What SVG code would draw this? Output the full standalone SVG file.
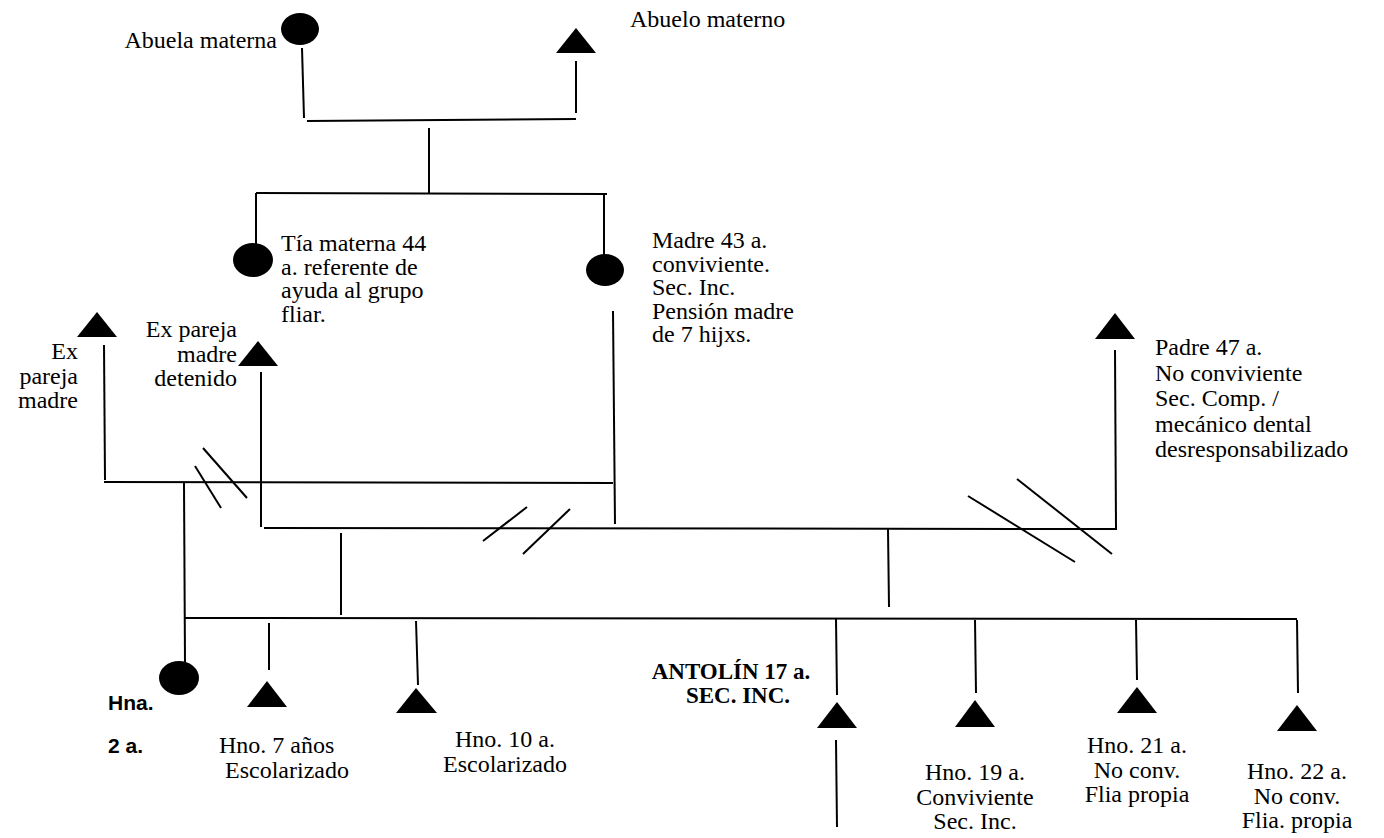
<svg xmlns="http://www.w3.org/2000/svg" width="1384" height="838" viewBox="0 0 1384 838">
<style>
.t{font-family:"Liberation Serif","Times New Roman",serif;font-size:24px;fill:#000}
.b{font-family:"Liberation Serif","Times New Roman",serif;font-size:23px;font-weight:bold;fill:#000}
.s{font-family:"Liberation Sans",Arial,sans-serif;font-size:21px;font-weight:bold;fill:#000}
.e{text-anchor:end}
.m{text-anchor:middle}
.ln line{stroke:#000;stroke-width:2;fill:none}
.sh{fill:#000}
</style>
<rect width="1384" height="838" fill="#fff"/>
<g id="connectors" class="ln">
<line x1="302" y1="48" x2="304" y2="118"/>
<line x1="307" y1="121" x2="576" y2="119"/>
<line x1="576" y1="61" x2="576" y2="113"/>
<line x1="429" y1="128" x2="429" y2="193"/>
<line x1="256" y1="193" x2="607" y2="194"/>
<line x1="256" y1="193" x2="256" y2="246"/>
<line x1="604" y1="194" x2="604" y2="255"/>
<line x1="613" y1="311" x2="615" y2="524"/>
<line x1="104" y1="345" x2="105" y2="480"/>
<line x1="261" y1="372" x2="261" y2="527"/>
<line x1="104" y1="482" x2="613" y2="483"/>
<line x1="195" y1="466" x2="221" y2="508"/>
<line x1="203" y1="448" x2="247" y2="498"/>
<line x1="1115" y1="350" x2="1116" y2="528"/>
<line x1="264" y1="528" x2="1117" y2="529"/>
<line x1="483" y1="541" x2="527" y2="507"/>
<line x1="523" y1="554" x2="570" y2="509"/>
<line x1="968" y1="496" x2="1075" y2="562"/>
<line x1="1017" y1="479" x2="1112" y2="554"/>
<line x1="341" y1="533" x2="341" y2="615"/>
<line x1="888" y1="529" x2="889" y2="607"/>
<line x1="185" y1="618" x2="1297" y2="619"/>
<line x1="184" y1="483" x2="185" y2="663"/>
<line x1="269" y1="623" x2="269" y2="670"/>
<line x1="416" y1="621" x2="418" y2="685"/>
<line x1="836" y1="619" x2="837" y2="695"/>
<line x1="836" y1="740" x2="837" y2="827"/>
<line x1="975" y1="620" x2="976" y2="693"/>
<line x1="1136" y1="620" x2="1137" y2="680"/>
<line x1="1297" y1="620" x2="1298" y2="693"/>
</g>
<g id="abuela">
<ellipse class="sh" cx="300" cy="29" rx="19" ry="16"/>
<text class="t e" x="277" y="48">Abuela materna</text>
</g>
<g id="abuelo">
<polygon class="sh" points="576,28 596,53 556,53"/>
<text class="t" x="630" y="27">Abuelo materno</text>
</g>
<g id="tia">
<ellipse class="sh" cx="253" cy="260" rx="20" ry="17"/>
<text class="t"><tspan x="281" y="251">Tía materna 44</tspan><tspan x="281" y="274.5">a. referente de</tspan><tspan x="281" y="298">ayuda al grupo</tspan><tspan x="281" y="321.5">fliar.</tspan></text>
</g>
<g id="madre">
<ellipse class="sh" cx="605" cy="270" rx="19" ry="16"/>
<text class="t"><tspan x="652" y="248">Madre 43 a.</tspan><tspan x="652" y="271.5">conviviente.</tspan><tspan x="652" y="295">Sec. Inc.</tspan><tspan x="652" y="318.5">Pensión madre</tspan><tspan x="652" y="342">de 7 hijxs.</tspan></text>
</g>
<g id="ex-pareja">
<polygon class="sh" points="97,312 117,337 77,337"/>
<text class="t e"><tspan x="78" y="359">Ex</tspan><tspan x="78" y="383.5">pareja</tspan><tspan x="78" y="408">madre</tspan></text>
</g>
<g id="ex-pareja-detenido">
<polygon class="sh" points="258,341 278,366 238,366"/>
<text class="t e"><tspan x="237" y="337">Ex pareja</tspan><tspan x="237" y="361.5">madre</tspan><tspan x="237" y="386">detenido</tspan></text>
</g>
<g id="padre">
<polygon class="sh" points="1115,313 1135,339 1095,339"/>
<text class="t"><tspan x="1155" y="355">Padre 47 a.</tspan><tspan x="1155" y="380.5">No conviviente</tspan><tspan x="1155" y="406">Sec. Comp. /</tspan><tspan x="1155" y="431.5">mecánico dental</tspan><tspan x="1155" y="457">desresponsabilizado</tspan></text>
</g>
<g id="hna">
<ellipse class="sh" cx="179" cy="678" rx="20" ry="17"/>
<text class="s" x="108" y="710">Hna.</text>
<text class="s" x="108" y="753">2 a.</text>
</g>
<g id="hno7">
<polygon class="sh" points="267,681 287,707 247,707"/>
<text class="t"><tspan x="219" y="753">Hno. 7 años</tspan><tspan x="225" y="778">Escolarizado</tspan></text>
</g>
<g id="hno10">
<polygon class="sh" points="416,688 437,713 396,713"/>
<text class="t m"><tspan x="505" y="747">Hno. 10 a.</tspan><tspan x="505" y="772">Escolarizado</tspan></text>
</g>
<g id="antolin">
<polygon class="sh" points="837,702 857,728 817,728"/>
<text class="b m"><tspan x="731" y="679">ANTOLÍN 17 a.</tspan><tspan x="738" y="703">SEC. INC.</tspan></text>
</g>
<g id="hno19">
<polygon class="sh" points="975,700 995,727 955,727"/>
<text class="t m"><tspan x="975" y="780">Hno. 19 a.</tspan><tspan x="975" y="804.5">Conviviente</tspan><tspan x="975" y="829">Sec. Inc.</tspan></text>
</g>
<g id="hno21">
<polygon class="sh" points="1137,687 1157,713 1117,713"/>
<text class="t m"><tspan x="1137" y="753">Hno. 21 a.</tspan><tspan x="1137" y="777.5">No conv.</tspan><tspan x="1137" y="802">Flia propia</tspan></text>
</g>
<g id="hno22">
<polygon class="sh" points="1297,705 1317,731 1277,731"/>
<text class="t m"><tspan x="1297" y="779">Hno. 22 a.</tspan><tspan x="1297" y="803.5">No conv.</tspan><tspan x="1297" y="828">Flia. propia</tspan></text>
</g>
</svg>
